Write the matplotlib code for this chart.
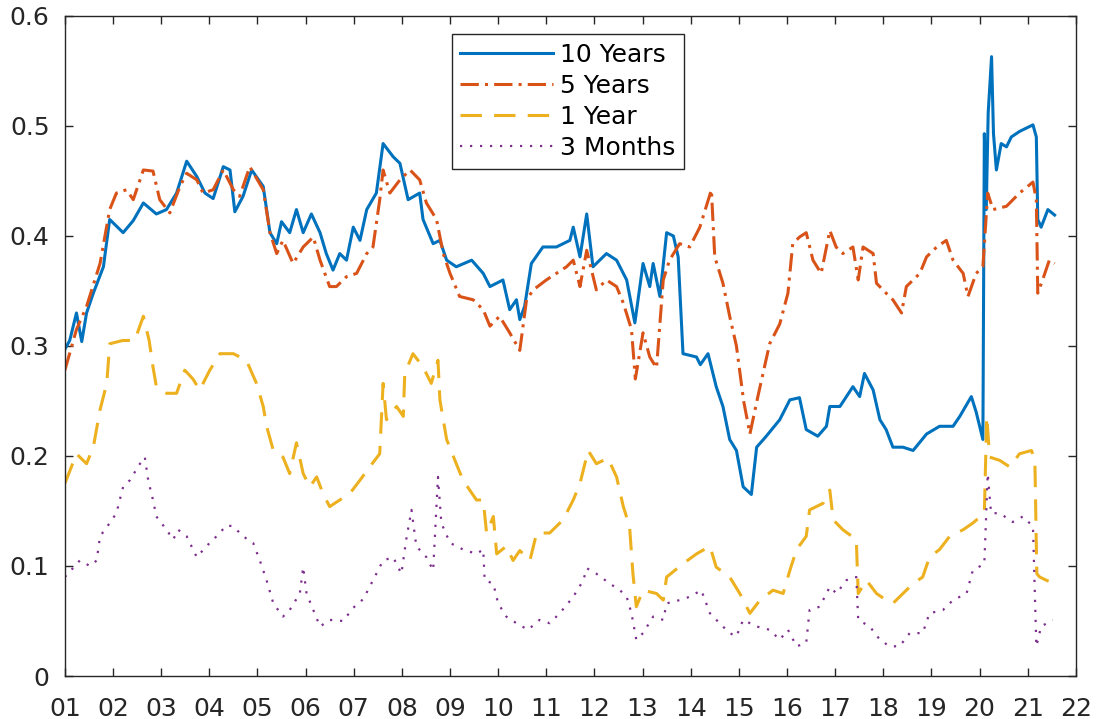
import matplotlib
matplotlib.use("Agg")
import matplotlib.pyplot as plt

# values (time in years, value)
t_10y = [2001.0, 2001.1, 2001.24, 2001.35, 2001.45, 2001.59, 2001.8, 2001.93, 2002.21, 2002.42,
         2002.63, 2002.9, 2003.11, 2003.32, 2003.53, 2003.74, 2003.91, 2004.08, 2004.29, 2004.43,
         2004.53, 2004.70, 2004.88, 2005.12, 2005.26, 2005.40, 2005.50, 2005.67, 2005.81, 2005.95,
         2006.12, 2006.30, 2006.43, 2006.57, 2006.71, 2006.85, 2006.99, 2007.13, 2007.27, 2007.47,
         2007.61, 2007.82, 2007.96, 2008.13, 2008.37, 2008.44, 2008.65, 2008.79, 2008.93, 2009.13,
         2009.45, 2009.69, 2009.83, 2010.10, 2010.24, 2010.38, 2010.45, 2010.55, 2010.69, 2010.93,
         2011.21, 2011.49, 2011.56, 2011.70, 2011.84, 2011.97, 2012.25, 2012.46, 2012.67, 2012.84,
         2013.01, 2013.15, 2013.22, 2013.36, 2013.50, 2013.64, 2013.74, 2013.84, 2014.12, 2014.20,
         2014.36, 2014.53, 2014.67, 2014.81, 2014.95, 2015.09, 2015.26, 2015.37, 2015.57, 2015.85,
         2016.06, 2016.26, 2016.40, 2016.64, 2016.82, 2016.89, 2017.10, 2017.37, 2017.51, 2017.61,
         2017.79, 2017.93, 2018.06, 2018.20, 2018.41, 2018.62, 2018.90, 2019.17, 2019.45, 2019.59,
         2019.83, 2019.93, 2020.07, 2020.10, 2020.14, 2020.18, 2020.25, 2020.29, 2020.35, 2020.45,
         2020.56, 2020.66, 2020.83, 2021.11, 2021.18, 2021.21, 2021.28, 2021.42, 2021.56]
v_10y = [0.297, 0.305, 0.330, 0.304, 0.330, 0.348, 0.372, 0.415, 0.403, 0.414,
         0.430, 0.420, 0.424, 0.439, 0.468, 0.454, 0.439, 0.434, 0.463, 0.460,
         0.422, 0.436, 0.460, 0.445, 0.403, 0.393, 0.413, 0.403, 0.424, 0.403,
         0.420, 0.403, 0.384, 0.369, 0.384, 0.378, 0.408, 0.396, 0.424, 0.439,
         0.484, 0.472, 0.466, 0.433, 0.439, 0.415, 0.393, 0.396, 0.378, 0.372,
         0.378, 0.366, 0.354, 0.360, 0.333, 0.342, 0.324, 0.336, 0.375, 0.390,
         0.390, 0.396, 0.408, 0.381, 0.420, 0.372, 0.384, 0.378, 0.360, 0.321,
         0.375, 0.354, 0.375, 0.345, 0.403, 0.400, 0.381, 0.293, 0.290, 0.283,
         0.293, 0.263, 0.245, 0.215, 0.205, 0.172, 0.165, 0.208, 0.218, 0.233,
         0.251, 0.253, 0.224, 0.218, 0.227, 0.245, 0.245, 0.263, 0.254, 0.275,
         0.260, 0.233, 0.224, 0.208, 0.208, 0.205, 0.220, 0.227, 0.227, 0.236,
         0.254, 0.240, 0.215, 0.493, 0.424, 0.512, 0.563, 0.493, 0.460, 0.484,
         0.481, 0.490, 0.495, 0.501, 0.490, 0.415, 0.408, 0.424, 0.419]

t_5y = [2001.0, 2001.24, 2001.45, 2001.73, 2001.93, 2002.07, 2002.28, 2002.42, 2002.63, 2002.83,
        2002.97, 2003.18, 2003.39, 2003.53, 2003.74, 2003.87, 2004.08, 2004.29, 2004.50, 2004.63,
        2004.84, 2005.12, 2005.26, 2005.40, 2005.53, 2005.74, 2005.95, 2006.16, 2006.30, 2006.50,
        2006.64, 2006.85, 2007.06, 2007.27, 2007.40, 2007.54, 2007.61, 2007.75, 2007.96, 2008.17,
        2008.37, 2008.51, 2008.72, 2008.86, 2009.00, 2009.20, 2009.48, 2009.69, 2009.83, 2010.03,
        2010.24, 2010.45, 2010.59, 2010.73, 2011.00, 2011.21, 2011.42, 2011.56, 2011.70, 2011.84,
        2012.04, 2012.25, 2012.46, 2012.60, 2012.77, 2012.85, 2013.01, 2013.15, 2013.29, 2013.43,
        2013.56, 2013.77, 2013.98, 2014.19, 2014.43, 2014.50, 2014.67, 2014.81, 2014.95, 2015.10,
        2015.23, 2015.40, 2015.64, 2015.85, 2016.02, 2016.12, 2016.26, 2016.40, 2016.54, 2016.71,
        2016.89, 2017.02, 2017.16, 2017.37, 2017.48, 2017.58, 2017.79, 2017.86, 2018.06, 2018.20,
        2018.38, 2018.48, 2018.76, 2018.90, 2019.11, 2019.31, 2019.45, 2019.66, 2019.76, 2019.93,
        2020.07, 2020.17, 2020.28, 2020.56, 2020.83, 2021.11, 2021.18, 2021.21, 2021.31, 2021.45,
        2021.56]
v_5y = [0.278, 0.315, 0.336, 0.375, 0.424, 0.439, 0.442, 0.433, 0.460, 0.459,
        0.433, 0.421, 0.445, 0.457, 0.451, 0.439, 0.442, 0.460, 0.442, 0.436,
        0.463, 0.442, 0.403, 0.384, 0.396, 0.375, 0.390, 0.399, 0.378, 0.354,
        0.354, 0.363, 0.366, 0.384, 0.390, 0.433, 0.460, 0.439, 0.451, 0.460,
        0.451, 0.430, 0.415, 0.384, 0.366, 0.345, 0.342, 0.333, 0.318, 0.327,
        0.312, 0.296, 0.342, 0.351, 0.360, 0.366, 0.372, 0.378, 0.354, 0.387,
        0.351, 0.360, 0.354, 0.339, 0.315, 0.270, 0.312, 0.290, 0.280, 0.360,
        0.378, 0.393, 0.390, 0.408, 0.442, 0.381, 0.357, 0.327, 0.300, 0.250,
        0.220, 0.255, 0.302, 0.320, 0.348, 0.393, 0.399, 0.403, 0.378, 0.366,
        0.405, 0.390, 0.384, 0.390, 0.360, 0.390, 0.384, 0.357, 0.348, 0.342,
        0.330, 0.354, 0.366, 0.381, 0.390, 0.396, 0.378, 0.366, 0.345, 0.366,
        0.372, 0.439, 0.424, 0.427, 0.439, 0.449, 0.433, 0.348, 0.360, 0.378,
        0.375]

t_1y = [2001.0, 2001.24, 2001.45, 2001.59, 2001.73, 2001.87, 2001.93, 2002.20, 2002.45, 2002.63,
        2002.75, 2002.83, 2002.90, 2003.11, 2003.32, 2003.49, 2003.66, 2003.80, 2004.01, 2004.22,
        2004.50, 2004.77, 2004.98, 2005.12, 2005.19, 2005.33, 2005.53, 2005.67, 2005.81, 2005.95,
        2006.09, 2006.23, 2006.36, 2006.50, 2006.71, 2006.92, 2007.13, 2007.33, 2007.54, 2007.61,
        2007.68, 2007.89, 2008.03, 2008.06, 2008.23, 2008.44, 2008.61, 2008.75, 2008.79, 2008.93,
        2009.13, 2009.27, 2009.55, 2009.69, 2009.76, 2009.90, 2009.97, 2010.17, 2010.31, 2010.45,
        2010.66, 2010.80, 2011.07, 2011.35, 2011.56, 2011.70, 2011.87, 2012.04, 2012.28, 2012.46,
        2012.60, 2012.73, 2012.80, 2012.87, 2013.01, 2013.29, 2013.43, 2013.50, 2013.84, 2014.12,
        2014.40, 2014.53, 2014.81, 2015.02, 2015.23, 2015.44, 2015.71, 2015.92, 2016.06, 2016.20,
        2016.40, 2016.47, 2016.75, 2016.89, 2016.96, 2017.16, 2017.44, 2017.48, 2017.65, 2017.86,
        2018.06, 2018.20, 2018.41, 2018.62, 2018.82, 2018.96, 2019.17, 2019.38, 2019.66, 2019.86,
        2020.10, 2020.15, 2020.21, 2020.42, 2020.63, 2020.83, 2021.08, 2021.15, 2021.19, 2021.25,
        2021.39, 2021.56]
v_1y = [0.175, 0.202, 0.193, 0.208, 0.242, 0.266, 0.302, 0.305, 0.305, 0.327,
        0.305, 0.281, 0.263, 0.257, 0.257, 0.278, 0.270, 0.260, 0.278, 0.293,
        0.293, 0.287, 0.266, 0.245, 0.227, 0.205, 0.199, 0.184, 0.212, 0.184,
        0.172, 0.181, 0.166, 0.154, 0.160, 0.166, 0.178, 0.190, 0.202, 0.266,
        0.233, 0.245, 0.236, 0.275, 0.293, 0.281, 0.266, 0.287, 0.251, 0.215,
        0.193, 0.178, 0.160, 0.160, 0.130, 0.145, 0.111, 0.118, 0.105, 0.114,
        0.105, 0.130, 0.130, 0.142, 0.160, 0.175, 0.205, 0.193, 0.198, 0.181,
        0.154, 0.136, 0.093, 0.063, 0.078, 0.075, 0.069, 0.090, 0.102, 0.111,
        0.118, 0.099, 0.090, 0.075, 0.057, 0.069, 0.078, 0.075, 0.096, 0.115,
        0.127, 0.151, 0.157, 0.169, 0.142, 0.133, 0.124, 0.075, 0.087, 0.075,
        0.069, 0.066, 0.075, 0.084, 0.090, 0.108, 0.115, 0.127, 0.133, 0.139,
        0.148, 0.236, 0.199, 0.196, 0.190, 0.202, 0.205, 0.196, 0.093, 0.090,
        0.087, 0.084]

t_3m = [2001.0, 2001.31, 2001.52, 2001.66, 2001.73, 2001.93, 2002.07, 2002.21, 2002.35, 2002.56,
        2002.66, 2002.73, 2002.83, 2002.90, 2003.11, 2003.25, 2003.35, 2003.53, 2003.74, 2003.94,
        2004.15, 2004.36, 2004.50, 2004.70, 2004.91, 2005.05, 2005.19, 2005.33, 2005.53, 2005.67,
        2005.88, 2005.95, 2006.02, 2006.16, 2006.30, 2006.50, 2006.78, 2006.99, 2007.20, 2007.40,
        2007.61, 2007.82, 2007.99, 2008.09, 2008.20, 2008.30, 2008.51, 2008.65, 2008.75, 2008.82,
        2009.00, 2009.27, 2009.55, 2009.69, 2009.72, 2009.90, 2010.00, 2010.17, 2010.38, 2010.62,
        2010.86, 2011.07, 2011.28, 2011.56, 2011.77, 2011.84, 2012.04, 2012.32, 2012.53, 2012.67,
        2012.77, 2012.87, 2013.01, 2013.22, 2013.43, 2013.50, 2013.77, 2013.98, 2014.22, 2014.40,
        2014.60, 2014.81, 2014.95, 2015.09, 2015.37, 2015.64, 2015.85, 2016.02, 2016.20, 2016.40,
        2016.47, 2016.68, 2016.89, 2017.03, 2017.23, 2017.44, 2017.48, 2017.72, 2017.93, 2018.13,
        2018.34, 2018.55, 2018.82, 2018.96, 2019.24, 2019.45, 2019.73, 2019.86, 2020.10, 2020.17,
        2020.24, 2020.42, 2020.69, 2020.90, 2021.11, 2021.18, 2021.28, 2021.52]
v_3m = [0.090, 0.105, 0.100, 0.105, 0.127, 0.139, 0.148, 0.172, 0.178, 0.193,
        0.199, 0.178, 0.160, 0.145, 0.133, 0.124, 0.133, 0.127, 0.108, 0.118,
        0.127, 0.137, 0.136, 0.127, 0.121, 0.105, 0.087, 0.066, 0.054, 0.060,
        0.075, 0.099, 0.075, 0.060, 0.045, 0.051, 0.050, 0.062, 0.070, 0.087,
        0.105, 0.108, 0.093, 0.124, 0.151, 0.118, 0.108, 0.096, 0.181, 0.139,
        0.121, 0.115, 0.111, 0.115, 0.087, 0.084, 0.066, 0.054, 0.048, 0.042,
        0.051, 0.048, 0.057, 0.072, 0.087, 0.098, 0.093, 0.084, 0.078, 0.072,
        0.057, 0.033, 0.039, 0.054, 0.051, 0.066, 0.069, 0.072, 0.078, 0.057,
        0.048, 0.039, 0.036, 0.051, 0.045, 0.042, 0.033, 0.042, 0.027, 0.030,
        0.060, 0.063, 0.081, 0.075, 0.087, 0.090, 0.051, 0.045, 0.033, 0.027,
        0.027, 0.039, 0.039, 0.057, 0.060, 0.069, 0.075, 0.096, 0.102, 0.184,
        0.148, 0.148, 0.140, 0.145, 0.136, 0.027, 0.045, 0.051]

year_ticks = list(range(2001, 2023))
year_labels = ['%02d' % (y % 100) for y in year_ticks]
y_ticks = [0, 0.1, 0.2, 0.3, 0.4, 0.5, 0.6]
y_labels = ['0', '0.1', '0.2', '0.3', '0.4', '0.5', '0.6']

plt.rcParams['font.family'] = ['DejaVu Sans']

fig = plt.figure(figsize=(11, 7.19), dpi=100)
ax = fig.add_axes([0.059, 0.0598, 0.919, 0.918])

ax.plot(t_10y, v_10y, color='#0072BD', lw=2.2, ls='-', label='10 Years')
ax.plot(t_5y, v_5y, color='#D95319', lw=2.2, dashes=[6, 2, 1, 2], label='5 Years')
ax.plot(t_1y, v_1y, color='#EDB120', lw=2.2, dashes=[7, 4], label='1 Year')
ax.plot(t_3m, v_3m, color='#7E2F8E', lw=1.6, dashes=[1, 3.5], label='3 Months')

ax.set_xlim(2001, 2022)
ax.set_ylim(0, 0.6)
ax.set_xticks(year_ticks)
ax.set_xticklabels(year_labels)
ax.set_yticks(y_ticks)
ax.set_yticklabels(y_labels)
ax.tick_params(direction='in', length=6, width=1, colors='#262626', labelsize=18,
               top=True, right=True)
ax.tick_params(axis='x', pad=15)
ax.tick_params(axis='y', pad=11)
for s in ax.spines.values():
    s.set_color('#262626')
    s.set_linewidth(1.0)

leg = ax.legend(loc='upper left', bbox_to_anchor=(0.3825, 0.972), fontsize=18,
                frameon=True, fancybox=False, edgecolor='#262626', framealpha=1,
                handlelength=3.7, labelspacing=0.28, borderaxespad=0, borderpad=0.35,
                handletextpad=0.3)
leg.get_frame().set_linewidth(1.0)

fig.savefig('out.png', dpi=100)
